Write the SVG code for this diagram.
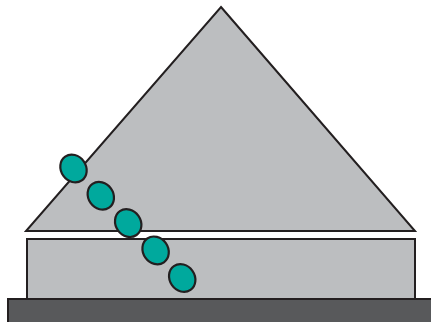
<svg xmlns="http://www.w3.org/2000/svg" width="431" height="322" viewBox="0 0 431 322">
<style>
.s{stroke:#231f20;stroke-width:2;stroke-linejoin:miter}
.g{fill:#bcbec0}
.d{fill:#58595b}
.b{fill:#00a99d;stroke:#231f20;stroke-width:2.2}
</style>
<rect width="431" height="322" fill="#fff"/>
<g id="base"><rect class="s d" x="8" y="299" width="430" height="30"/></g>
<g id="block"><rect class="s g" x="27" y="239" width="388" height="60"/></g>
<g id="roof"><polygon class="s g" points="221,7 415,231 26,231"/></g>
<g id="balls">
<ellipse class="b" cx="0" cy="0" rx="12.5" ry="14.5" transform="translate(73.5,168.5) rotate(-35)"/>
<ellipse class="b" cx="0" cy="0" rx="12.5" ry="14.5" transform="translate(100.8,195.8) rotate(-35)"/>
<ellipse class="b" cx="0" cy="0" rx="12.5" ry="14.5" transform="translate(128.2,223.1) rotate(-35)"/>
<ellipse class="b" cx="0" cy="0" rx="12.5" ry="14.5" transform="translate(155.6,250.4) rotate(-35)"/>
<ellipse class="b" cx="0" cy="0" rx="12.5" ry="14.5" transform="translate(182.2,278) rotate(-35)"/>
</g>
</svg>
